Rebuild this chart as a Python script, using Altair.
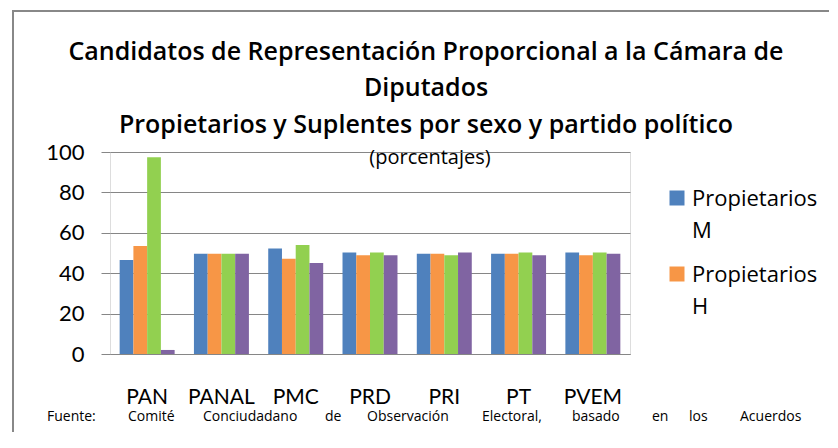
import altair as alt
import pandas as pd

partidos = ["PAN", "PANAL", "PMC", "PRD", "PRI", "PT", "PVEM"]
series = ["Propietarios M", "Propietarios H", "Suplentes M", "Suplentes H"]
prop_m = [46.5, 49.6, 52.2, 50.2, 49.6, 49.6, 50.2]
prop_h = [53.5, 49.6, 47.1, 48.9, 49.6, 49.6, 48.9]
supl_m = [97.4, 49.6, 54.0, 50.2, 48.9, 50.2, 50.2]
supl_h = [2.0, 49.6, 45.1, 48.9, 50.2, 48.9, 49.6]
colores = ["#4F81BD", "#F79646", "#92D050", "#8064A2"]
y_ticks = [0, 20, 40, 60, 80, 100]

titulo = ["Candidatos de Representación Proporcional a la Cámara de",
          "Diputados",
          "Propietarios y Suplentes  por sexo y partido político"]
subtitulo = "(porcentajes)"
fuente = ["Fuente:", "Comité", "Conciudadano", "de", "Observación",
          "Electoral,", "basado", "en", "los", "Acuerdos"]

rows = []
for vals, s in zip([prop_m, prop_h, supl_m, supl_h], series):
    for p, v in zip(partidos, vals):
        rows.append({"partido": p, "serie": s, "valor": v})
df = pd.DataFrame(rows)

W, H = 520, 202
FONT = "Lato"
FONT2 = "Open Sans"

bars = alt.Chart(df).mark_bar().encode(
    x=alt.X("partido:N", sort=partidos,
            scale=alt.Scale(paddingInner=0.26, paddingOuter=0.13),
            axis=alt.Axis(title=None, labelAngle=0, labelFontSize=21,
                          labelFont=FONT, labelColor="#000", labelPadding=32,
                          domainColor="#868686", ticks=False, grid=False)),
    xOffset=alt.XOffset("serie:N", sort=series, scale=alt.Scale(paddingInner=0)),
    y=alt.Y("valor:Q", scale=alt.Scale(domain=[0, 100]),
            axis=alt.Axis(title=None, values=y_ticks, labelFontSize=22,
                          labelFont=FONT, labelColor="#000", labelPadding=17,
                          tickSize=9, tickColor="#868686", domain=False,
                          gridColor="#868686", gridOpacity=1)),
    color=alt.Color("serie:N", sort=series,
                    scale=alt.Scale(domain=series, range=colores), legend=None),
)

def txt(text, x, y, size, weight="normal", align="center", lh=None, font=FONT):
    kw = dict(fontSize=size, font=font, fontWeight=weight, align=align,
              baseline="middle", color="#000")
    if lh:
        kw["lineHeight"] = lh
    return alt.Chart(pd.DataFrame({"a": [0]})).mark_text(**kw).encode(
        x=alt.value(x), y=alt.value(y), text=alt.value(text))

OX, OY = 110, 152  # plot origin in page pixels (approx)
layers = []
# outer border
layers.append(alt.Chart(pd.DataFrame({"a": [0]})).mark_rect(
    fill=None, stroke="#888888", strokeWidth=2).encode(
    x=alt.value(13 - OX), y=alt.value(11 - OY),
    x2=alt.value(860 - OX), y2=alt.value(470 - OY)))
layers.append(bars)
for i, line in enumerate(titulo):
    layers.append(txt(line, 426 - OX, [52, 88, 125][i] - OY, 25, 600, font=FONT2))
layers.append(txt(subtitulo, 430 - OX, 158 - OY, 20, font=FONT2))
# legend (only first two entries visible)
for i, s in enumerate(series[:2]):
    top = [190, 266][i]
    layers.append(alt.Chart(pd.DataFrame({"a": [0]})).mark_square(
        size=225, color=colores[i], opacity=1).encode(
        x=alt.value(677 - OX), y=alt.value(top + 8 - OY)))
    layers.append(txt(s.split(" "), 692 - OX, top + 9 - OY, 22,
                      align="left", lh=32, font=FONT2))
# footer
fx = [47, 128, 203, 325, 367, 482, 572, 652, 689, 740]
for w, x in zip(fuente, fx):
    layers.append(txt(w, x - OX, 417 - OY, 14, align="left", font=FONT2))

chart = alt.layer(*layers).properties(
    width=W, height=H,
    autosize=alt.AutoSizeParams(type="none"),
    padding={"left": OX - 8, "top": OY - 8, "right": 838 - 9 - OX - W, "bottom": 448 - 16 - OY - H},
).configure_view(fill="#F2F2F2", stroke=None).configure(background="white")

chart.save("out.html", embed_options={"renderer": "svg", "actions": False})
